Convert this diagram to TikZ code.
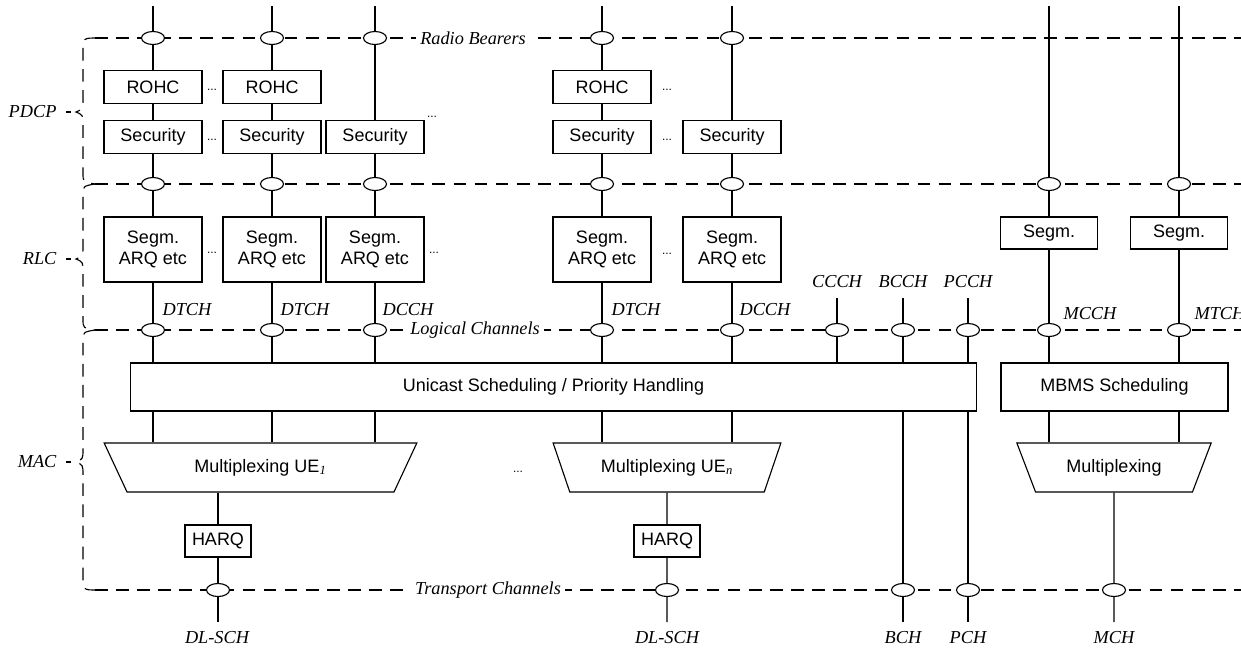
\documentclass[tikz,border=0pt]{standalone}
\usepackage{fontspec}
\setmainfont{Liberation Serif}
\setsansfont{Liberation Sans}
\usetikzlibrary{shapes.geometric}

\begin{document}
\begin{tikzpicture}[x=0.025cm, y=-0.025cm, line width=0.8pt,
    box/.style={draw, fill=white, inner sep=0pt, align=center, minimum width=2.45cm, minimum height=0.82cm, font=\sffamily\fontsize{12.8}{15}\selectfont},
    sap/.style={draw, ellipse, fill=white, inner sep=0pt, minimum width=0.575cm, minimum height=0.325cm},
    mux/.style={draw, fill=white, trapezium, shape border rotate=180, trapezium stretches=true, trapezium angle=56, minimum height=1.225cm, inner sep=0pt, font=\sffamily\fontsize{12.8}{15}\selectfont},
    chan/.style={inner sep=0pt, font=\itshape\fontsize{13}{15}\selectfont},
    etc/.style={inner sep=0pt, font=\sffamily\fontsize{8.5}{10}\selectfont},
    boundary/.style={dash pattern=on 9pt off 6pt}]
    \useasboundingbox (0,0) rectangle (1241,647);

    % Draw the layer boundaries first, the SAPs and labels cover them
    \draw[boundary] (95,38) -- (1250,38);
    \draw[boundary] (95,184) -- (1250,184);
    \draw[boundary] (95,330) -- (1250,330);
    \draw[boundary] (95,590) -- (1250,590);

    % Braces for the three layers
    \draw[boundary] (97,38) .. controls (83,38) .. (83,52) -- (83,99) .. controls (83,109) .. (76,112) .. controls (83,115) .. (83,125) -- (83,173) .. controls (83,182) .. (95,184);
    \draw[boundary] (95,184) .. controls (83,186) .. (83,196) -- (83,246) .. controls (83,256) .. (76,259) .. controls (83,262) .. (83,272) -- (83,319) .. controls (83,328) .. (95,330);
    \draw[boundary] (95,330) .. controls (83,332) .. (83,342) -- (83,449) .. controls (83,459) .. (76,462) .. controls (83,465) .. (83,475) -- (83,576) .. controls (83,590) .. (97,590);
    \draw (66,112) -- (71,112);
    \draw (66,259) -- (71,259);
    \draw (66,462) -- (71,462);

    \node[chan, anchor=east] (pdcp) at (57,112) {PDCP};
    \node[chan, anchor=east] (rlc) at (57,259) {RLC};
    \node[chan, anchor=east] (mac) at (57,462) {MAC};

    \node[chan, fill=white, inner xsep=3pt] (radio) at (473,38) {Radio Bearers};
    \node[chan, fill=white, inner xsep=3pt] (logical) at (475,330) {Logical Channels};
    \node[chan, fill=white, inner xsep=3pt] (transport) at (488,590) {Transport Channels};

    % PDCP entities
    \node[box] (rohc1) at (153,87) {ROHC};
    \node[box] (rohc2) at (272,87) {ROHC};
    \node[box] (rohc4) at (602,87) {ROHC};
    \node[box] (sec1) at (153,137) {Security};
    \node[box] (sec2) at (272,137) {Security};
    \node[box] (sec3) at (375,137) {Security};
    \node[box] (sec4) at (602,137) {Security};
    \node[box] (sec5) at (732,137) {Security};

    % RLC entities
    \node[box, minimum height=1.625cm] (seg1) at (153,249.5) {Segm.\\ARQ etc};
    \node[box, minimum height=1.625cm] (seg2) at (272,249.5) {Segm.\\ARQ etc};
    \node[box, minimum height=1.625cm] (seg3) at (375,249.5) {Segm.\\ARQ etc};
    \node[box, minimum height=1.625cm] (seg4) at (602,249.5) {Segm.\\ARQ etc};
    \node[box, minimum height=1.625cm] (seg5) at (732,249.5) {Segm.\\ARQ etc};
    \node[box, minimum width=2.425cm, minimum height=0.8cm] (mseg1) at (1049,233) {Segm.};
    \node[box, minimum width=2.425cm, minimum height=0.8cm] (mseg2) at (1179,233) {Segm.};

    % MAC entities
    \node[box, minimum width=21.125cm, minimum height=1.2cm] (uc) at (553.5,387) {Unicast Scheduling / Priority Handling};
    \node[box, minimum width=5.675cm, minimum height=1.2cm] (mbms) at (1114.5,387) {MBMS Scheduling};
    \node[mux, minimum width=7.825cm] (mux1) at (260.5,467.5) {Multiplexing UE\textsubscript{\rmfamily\itshape 1}};
    \node[mux, minimum width=5.7cm] (muxn) at (667,467.5) {Multiplexing UE\textsubscript{\rmfamily\itshape n}};
    \node[mux, minimum width=4.875cm] (muxm) at (1114,467.5) {Multiplexing};
    \node[box, minimum width=1.65cm, minimum height=0.8cm] (harq1) at (218,541) {HARQ};
    \node[box, minimum width=1.65cm, minimum height=0.8cm] (harq2) at (667,541) {HARQ};

    % SAPs on the layer boundaries
    \node[sap] (rb1) at (153,38) {};
    \node[sap] (rb2) at (272,38) {};
    \node[sap] (rb3) at (375,38) {};
    \node[sap] (rb4) at (602,38) {};
    \node[sap] (rb5) at (732,38) {};
    \node[sap] (pd1) at (153,184) {};
    \node[sap] (pd2) at (272,184) {};
    \node[sap] (pd3) at (375,184) {};
    \node[sap] (pd4) at (602,184) {};
    \node[sap] (pd5) at (732,184) {};
    \node[sap] (pd6) at (1049,184) {};
    \node[sap] (pd7) at (1179,184) {};
    \node[sap] (lc1) at (153,330) {};
    \node[sap] (lc2) at (272,330) {};
    \node[sap] (lc3) at (375,330) {};
    \node[sap] (lc4) at (602,330) {};
    \node[sap] (lc5) at (732,330) {};
    \node[sap] (lcc) at (837,330) {};
    \node[sap] (lcb) at (903,330) {};
    \node[sap] (lcp) at (968,330) {};
    \node[sap] (lcm) at (1049,330) {};
    \node[sap] (lct) at (1179,330) {};
    \node[sap] (tr1) at (218,590) {};
    \node[sap] (tr2) at (667,590) {};
    \node[sap] (trb) at (903,590) {};
    \node[sap] (trp) at (968,590) {};
    \node[sap] (trm) at (1114,590) {};

    % free ends of the channels
    \coordinate (in1) at (153,6);
    \coordinate (in2) at (272,6);
    \coordinate (in3) at (375,6);
    \coordinate (in4) at (602,6);
    \coordinate (in5) at (732,6);
    \coordinate (in6) at (1049,6);
    \coordinate (in7) at (1179,6);
    \coordinate (inc) at (837,298);
    \coordinate (inb) at (903,298);
    \coordinate (inp) at (968,298);
    \coordinate (out1) at (218,622);
    \coordinate (out2) at (667,622);
    \coordinate (outb) at (903,622);
    \coordinate (outp) at (968,622);
    \coordinate (outm) at (1114,622);

    % channels through the layers
    \draw (in1) -- (rb1) -- (rohc1) -- (sec1) -- (pd1) -- (seg1) -- (lc1) -- (lc1 |- uc.north);
    \draw (in2) -- (rb2) -- (rohc2) -- (sec2) -- (pd2) -- (seg2) -- (lc2) -- (lc2 |- uc.north);
    \draw (in3) -- (rb3) -- (sec3) -- (pd3) -- (seg3) -- (lc3) -- (lc3 |- uc.north);
    \draw (in4) -- (rb4) -- (rohc4) -- (sec4) -- (pd4) -- (seg4) -- (lc4) -- (lc4 |- uc.north);
    \draw (in5) -- (rb5) -- (sec5) -- (pd5) -- (seg5) -- (lc5) -- (lc5 |- uc.north);
    \draw (in6) -- (pd6) -- (mseg1) -- (lcm) -- (lcm |- mbms.north);
    \draw (in7) -- (pd7) -- (mseg2) -- (lct) -- (lct |- mbms.north);
    \draw (inc) -- (lcc) -- (lcc |- uc.north);
    \draw (inb) -- (lcb) -- (lcb |- uc.north);
    \draw (inp) -- (lcp) -- (lcp |- uc.north);

    \draw (uc.south -| lc1) -- (mux1.north -| lc1);
    \draw (uc.south -| lc2) -- (mux1.north -| lc2);
    \draw (uc.south -| lc3) -- (mux1.north -| lc3);
    \draw (uc.south -| lc4) -- (muxn.north -| lc4);
    \draw (uc.south -| lc5) -- (muxn.north -| lc5);
    \draw (mbms.south -| lcm) -- (muxm.north -| lcm);
    \draw (mbms.south -| lct) -- (muxm.north -| lct);

    \draw (mux1.south -| harq1) -- (harq1) -- (tr1) -- (out1);
    \draw (muxn.south) -- (harq2) -- (tr2) -- (out2);
    \draw (uc.south -| lcb) -- (trb) -- (outb);
    \draw (uc.south -| lcp) -- (trp) -- (outp);
    \draw (muxm.south) -- (trm) -- (outm);

    % channel names
    \node[chan, anchor=west] (dtch1) at (162,310) {DTCH};
    \node[chan, anchor=west] (dtch2) at (280,310) {DTCH};
    \node[chan, anchor=west] (dcch3) at (382,310) {DCCH};
    \node[chan, anchor=west] (dtch4) at (611,310) {DTCH};
    \node[chan, anchor=west] (dcch5) at (739,310) {DCCH};
    \node[chan] (ccch) at (837,282) {CCCH};
    \node[chan] (bcch) at (903,282) {BCCH};
    \node[chan] (pcch) at (968,282) {PCCH};
    \node[chan, anchor=west] (mcch) at (1063,314) {MCCH};
    \node[chan, anchor=west] (mtch) at (1194,314) {MTCH};
    \node[chan] (dlsch1) at (217,638) {DL-SCH};
    \node[chan] (dlsch2) at (667,638) {DL-SCH};
    \node[chan] (bch) at (903,638) {BCH};
    \node[chan] (pch) at (968,638) {PCH};
    \node[chan] (mch) at (1114,638) {MCH};

    % further entities not shown
    \node[etc] (etc1) at (212,90) {...};
    \node[etc] (etc2) at (212,140) {...};
    \node[etc] (etc3) at (432,117) {...};
    \node[etc] (etc4) at (667,90) {...};
    \node[etc] (etc5) at (667,140) {...};
    \node[etc] (etc6) at (212,253) {...};
    \node[etc] (etc7) at (434,253) {...};
    \node[etc] (etc8) at (667,254) {...};
    \node[etc] (etc9) at (518,472) {...};
\end{tikzpicture}
\end{document}
